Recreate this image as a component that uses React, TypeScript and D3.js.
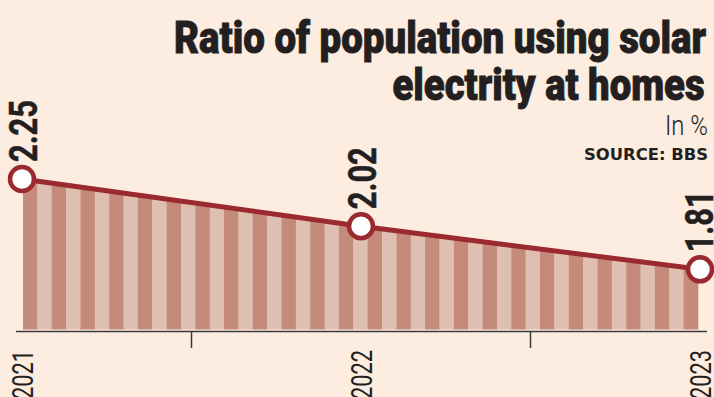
import React from "react";
import * as d3 from "d3";

// values (in %)
const years = [2021, 2022, 2023];
const ratios = [2.25, 2.02, 1.81];
const valueLabels = ["2.25", "2.02", "1.81"];
const yearLabels = ["2021", "2022", "2023"];

const titleLines = ["Ratio of population using solar", "electrity at homes"];
const unitText = "In %";
const sourceText = "SOURCE: BBS";

const W = 714;
const H = 397;
const BG = "#fdece0";
const DARK = "#c48a7a";
const LIGHT = "#dfbfb2";
const LINE = "#9a2a30";
const INK = "#231f20";
const STRIPES = 47;

export default function App() {
  const x = d3.scaleLinear().domain([2021, 2023]).range([22, 700]);
  const y = d3.scaleLinear().domain([1.5, 2.25]).range([333, 179]);
  const axisY = 331.5;
  const baseY = axisY - 2;

  const rows = years.map((yr, i) => ({ yr, v: ratios[i] }));

  const area = d3
    .area<{ yr: number; v: number }>()
    .x((d) => x(d.yr))
    .y0(baseY)
    .y1((d) => y(d.v));
  const line = d3
    .line<{ yr: number; v: number }>()
    .x((d) => x(d.yr))
    .y((d) => y(d.v));

  // stripe bands across the plotted range
  const [x0, x1] = x.range();
  const band = d3
    .scaleBand<number>()
    .domain(d3.range(STRIPES))
    .range([x0 + 1, x1 - 2]);

  // mid-year ticks
  const midTicks = years.slice(0, -1).map((yr) => yr + 0.5);

  return (
    <div style={{ position: "fixed", left: 0, top: 0 }}>
      <svg width={W} height={H} style={{ display: "block", background: BG }}>
        <defs>
          <clipPath id="under">
            <path d={area(rows) || ""} />
          </clipPath>
        </defs>

        {/* title block, stroked a little to get the heavy condensed look */}
        <g
          fill={INK}
          stroke={INK}
          strokeWidth={0.9}
          textAnchor="end"
          fontFamily="Roboto, sans-serif"
          fontWeight={900}
        >
          <text x={706} y={53} fontSize={45} textLength={532} lengthAdjust="spacingAndGlyphs">
            {titleLines[0]}
          </text>
          <text x={704.5} y={100} fontSize={45} textLength={312} lengthAdjust="spacingAndGlyphs">
            {titleLines[1]}
          </text>
        </g>
        <text
          x={708}
          y={135}
          textAnchor="end"
          fill={INK}
          fontFamily="Roboto, sans-serif"
          fontWeight={300}
          fontSize={27}
          textLength={43}
          lengthAdjust="spacingAndGlyphs"
        >
          {unitText}
        </text>
        <text
          x={708}
          y={160}
          textAnchor="end"
          fill={INK}
          fontFamily="'DejaVu Sans', sans-serif"
          fontWeight={700}
          fontSize={15}
          textLength={124}
          lengthAdjust="spacingAndGlyphs"
        >
          {sourceText}
        </text>

        {/* striped area */}
        <g clipPath="url(#under)">
          {band.domain().map((i) => (
            <rect
              key={i}
              x={band(i)}
              y={0}
              width={band.bandwidth() + 0.3}
              height={H}
              fill={i % 2 === 0 ? DARK : LIGHT}
            />
          ))}
        </g>

        {/* axis */}
        <line x1={16} x2={707} y1={axisY} y2={axisY} stroke="#3a3a3a" strokeWidth={1.4} />
        {midTicks.map((t) => (
          <line key={t} x1={x(t)} x2={x(t)} y1={axisY} y2={348} stroke="#3a3a3a" strokeWidth={1.5} />
        ))}
        {years.map((yr, i) => (
          <text
            key={yr}
            transform={`translate(${x(yr) + 11},350) rotate(-90)`}
            textAnchor="end"
            fill={INK}
            fontFamily="Roboto, sans-serif"
            fontSize={30}
            textLength={49}
            lengthAdjust="spacingAndGlyphs"
          >
            {yearLabels[i]}
          </text>
        ))}

        {/* line and markers */}
        <path d={line(rows) || ""} fill="none" stroke={LINE} strokeWidth={5} />
        {rows.map((d, i) => (
          <g key={d.yr}>
            <circle cx={x(d.yr)} cy={y(d.v)} r={12} fill="#fff" stroke={LINE} strokeWidth={4.5} />
            <text
              transform={`translate(${Math.min(x(d.yr) + 15, W - 1)},${y(d.v) - 17}) rotate(-90)`}
              fill={INK}
              stroke={INK}
              strokeWidth={0.5}
              fontFamily="Roboto, sans-serif"
              fontWeight={700}
              fontSize={38}
              textLength={62}
              lengthAdjust="spacingAndGlyphs"
            >
              {valueLabels[i]}
            </text>
          </g>
        ))}
      </svg>
    </div>
  );
}
